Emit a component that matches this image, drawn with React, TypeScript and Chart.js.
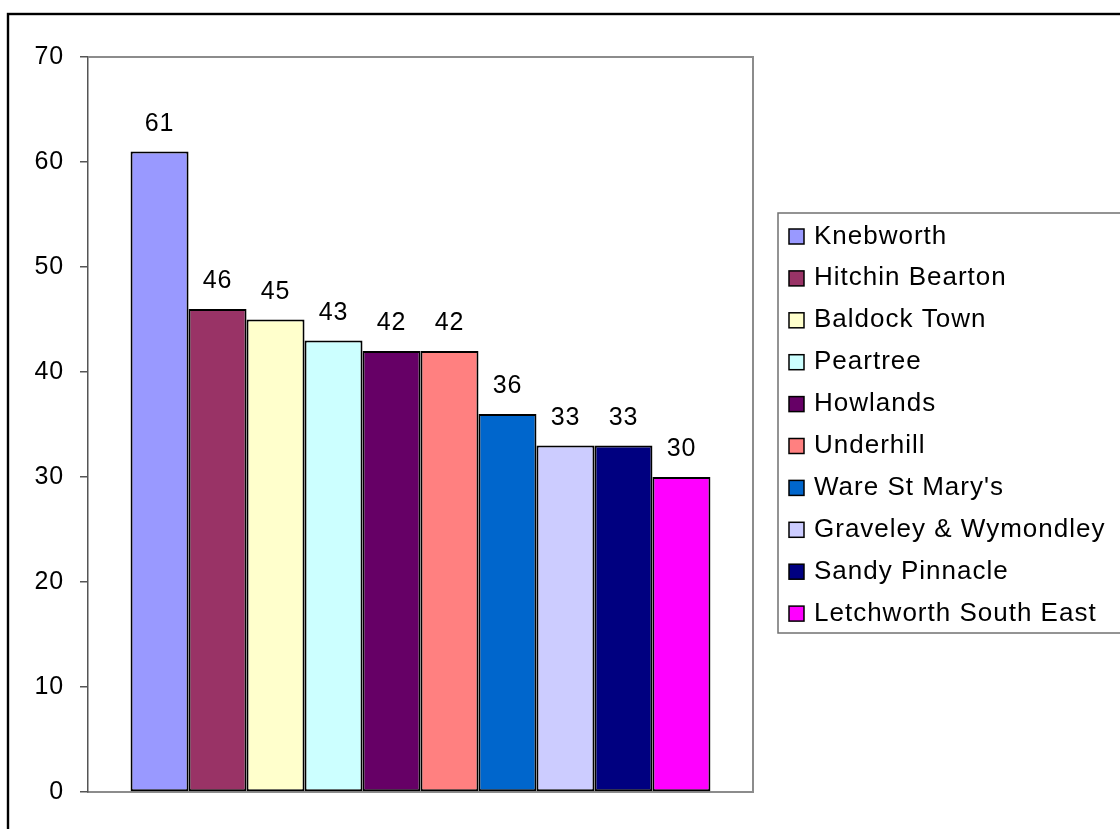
import React, { useEffect, useRef } from "react";
import { Chart, registerables } from "chart.js";

Chart.register(...registerables);

const wards: string[] = [
  "Knebworth",
  "Hitchin Bearton",
  "Baldock Town",
  "Peartree",
  "Howlands",
  "Underhill",
  "Ware St Mary's",
  "Graveley & Wymondley",
  "Sandy Pinnacle",
  "Letchworth South East",
];
const values: number[] = [61, 46, 45, 43, 42, 42, 36, 33, 33, 30];
const colors: string[] = [
  "#9999FF",
  "#993366",
  "#FFFFCC",
  "#CCFFFF",
  "#660066",
  "#FF8080",
  "#0066CC",
  "#CCCCFF",
  "#000080",
  "#FF00FF",
];
const yTicks: number[] = [0, 10, 20, 30, 40, 50, 60, 70];

const FONT = "Liberation Sans, Arial, sans-serif";

const decorPlugin = {
  id: "decor",
  beforeDraw(chart: any) {
    const ctx = chart.ctx;
    ctx.save();
    ctx.fillStyle = "#ffffff";
    ctx.fillRect(0, 0, chart.width, chart.height);
    ctx.restore();
    try {
      (ctx as any).letterSpacing = "0.8px";
    } catch (e) {}
  },
  beforeDatasetsDraw(chart: any) {
    const ctx = chart.ctx;
    const a = chart.chartArea;
    ctx.save();
    ctx.strokeStyle = "#8c8c8c";
    ctx.lineWidth = 2;
    ctx.beginPath();
    ctx.moveTo(a.left, a.top);
    ctx.lineTo(a.right, a.top);
    ctx.lineTo(a.right, a.bottom);
    ctx.stroke();
    ctx.restore();
  },
  afterDatasetsDraw(chart: any) {
    const ctx = chart.ctx;
    ctx.save();
    (ctx as any).letterSpacing = "0.8px";
    ctx.font = `25px ${FONT}`;
    ctx.fillStyle = "#000000";
    ctx.textAlign = "center";
    ctx.textBaseline = "alphabetic";
    chart.data.datasets.forEach((ds: any, i: number) => {
      const meta = chart.getDatasetMeta(i);
      const el = meta.data[0];
      if (!el) return;
      ctx.fillText(String(ds.data[0]), el.x, el.y - 21);
    });
    ctx.restore();
  },
  afterDraw(chart: any) {
    const ctx = chart.ctx;
    ctx.save();
    // legend box
    const lx = 778;
    const ly = 213;
    const lb = 633;
    ctx.strokeStyle = "#707070";
    ctx.lineWidth = 1.5;
    ctx.strokeRect(lx, ly, 400, lb - ly);
    (ctx as any).letterSpacing = "1px";
    ctx.font = `26px ${FONT}`;
    ctx.textAlign = "left";
    ctx.textBaseline = "alphabetic";
    chart.data.datasets.forEach((ds: any, i: number) => {
      const cy = 236.5 + i * 41.9;
      ctx.fillStyle = ds.backgroundColor;
      ctx.fillRect(789, cy - 7.5, 15, 15);
      ctx.strokeStyle = "#000000";
      ctx.lineWidth = 1.5;
      ctx.strokeRect(789, cy - 7.5, 15, 15);
      ctx.fillStyle = "#000000";
      ctx.fillText(ds.label, 814, cy + 7);
    });
    // outer border
    (ctx as any).letterSpacing = "0px";
    ctx.strokeStyle = "#000000";
    ctx.lineWidth = 2.4;
    ctx.strokeRect(8, 14, 1130, 840);
    ctx.restore();
  },
};

export default function App() {
  const ref = useRef<HTMLCanvasElement | null>(null);
  useEffect(() => {
    if (!ref.current) return;
    const chart = new Chart(ref.current, {
      type: "bar",
      data: {
        labels: [""],
        datasets: wards.map((w, i) => ({
          label: w,
          data: [values[i]],
          backgroundColor: colors[i],
          borderColor: "#000000",
          borderWidth: 2,
          borderSkipped: false,
          categoryPercentage: 0.872,
          barPercentage: 1,
        })),
      },
      options: {
        responsive: false,
        animation: false,
        layout: { padding: { top: 57, right: 367, left: 0, bottom: 0 } },
        plugins: {
          legend: { display: false },
          tooltip: { enabled: false },
        },
        scales: {
          x: {
            grid: { display: false },
            ticks: { display: false },
            border: { display: true, color: "#8c8c8c", width: 2 },
            afterFit: (s: any) => {
              s.height = 37;
            },
          },
          y: {
            min: 0,
            max: 70,
            afterBuildTicks: (s: any) => {
              s.ticks = yTicks.map((v) => ({ value: v }));
            },
            ticks: {
              color: "#000000",
              font: { family: FONT, size: 25 },
              padding: 16,
            },
            grid: {
              drawOnChartArea: false,
              drawTicks: true,
              tickLength: 8,
              color: "#555555",
              lineWidth: 1.5,
            },
            border: { display: true, color: "#555555", width: 1.5 },
            afterFit: (s: any) => {
              s.width = 88;
            },
          },
        },
      },
      plugins: [decorPlugin],
    });
    return () => chart.destroy();
  }, []);
  return (
    <div style={{ position: "fixed", left: 0, top: 0, width: 1120, height: 829 }}>
      <canvas ref={ref} width={1120} height={829} style={{ display: "block" }} />
    </div>
  );
}
